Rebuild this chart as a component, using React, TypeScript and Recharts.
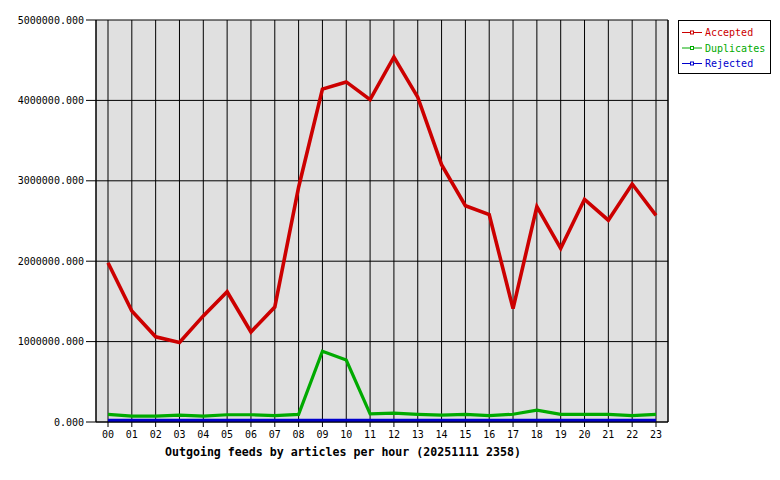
import React from "react";
import { LineChart, Line, XAxis, YAxis, CartesianGrid } from "recharts";

const hours = ["00","01","02","03","04","05","06","07","08","09","10","11","12","13","14","15","16","17","18","19","20","21","22","23"];
const accepted = [1980000,1380000,1060000,990000,1320000,1620000,1120000,1430000,2920000,4140000,4230000,4010000,4540000,4040000,3200000,2690000,2580000,1410000,2680000,2160000,2770000,2510000,2960000,2570000];
const duplicates = [95000,72000,72000,85000,72000,90000,90000,80000,95000,880000,770000,100000,110000,95000,85000,96000,80000,96000,148000,96000,96000,96000,80000,96000];
const rejected = [20000,20000,20000,20000,20000,20000,20000,20000,20000,20000,20000,20000,20000,20000,20000,20000,20000,20000,20000,20000,20000,20000,20000,20000];
const yTicks = [0,1000000,2000000,3000000,4000000,5000000];
const title = "Outgoing feeds by articles per hour (20251111 2358)";

const series = [
  { key: "accepted", name: "Accepted", color: "#cc0000", width: 3.6 },
  { key: "duplicates", name: "Duplicates", color: "#00aa00", width: 3.2 },
  { key: "rejected", name: "Rejected", color: "#0000cc", width: 3.2 },
];

const data = hours.map((h, i) => ({
  hour: h,
  accepted: accepted[i],
  duplicates: duplicates[i],
  rejected: rejected[i],
}));

const MONO = "'DejaVu Sans Mono', monospace";

const TitleLabel = (props: any) => {
  const vb = props.viewBox || {};
  return (
    <text x={(vb.x || 0) + 69} y={(vb.y || 0) + 34} fontFamily={MONO} fontSize={11.6} fontWeight="bold" fill="#000">
      {title}
    </text>
  );
};

export default function App() {
  return (
    <div style={{ position: "relative", width: 772, height: 472, background: "#fff" }}>
      <LineChart width={772} height={472} data={data} margin={{ top: 12, right: 111, bottom: 0, left: 0 }}>
        <CartesianGrid stroke="#000" strokeOpacity={1} fill="#e0e0e0" fillOpacity={1} />
        <XAxis
          dataKey="hour"
          height={58}
          interval={0}
          padding={{ left: 12, right: 12 }}
          tickSize={5}
          tickMargin={4}
          axisLine={{ stroke: "#000" }}
          tickLine={{ stroke: "#000" }}
          tick={{ fill: "#000", fontSize: 10, fontFamily: MONO }}
          label={<TitleLabel />}
        />
        <YAxis
          width={88}
          domain={[0, 5000000]}
          ticks={yTicks}
          interval={0}
          tickSize={10}
          tickMargin={2}
          tickFormatter={(v: number) => v.toFixed(3)}
          axisLine={{ stroke: "#000" }}
          tickLine={{ stroke: "#000" }}
          tick={{ fill: "#000", fontSize: 10, fontFamily: MONO }}
        />
        <YAxis
          yAxisId="right"
          orientation="right"
          width={1}
          domain={[0, 5000000]}
          tick={false}
          tickLine={false}
          axisLine={{ stroke: "#000" }}
        />
        {series.map((s) => (
          <Line
            key={s.key}
            dataKey={s.key}
            name={s.name}
            stroke={s.color}
            strokeWidth={s.width}
            dot={false}
            activeDot={false}
            type="linear"
            isAnimationActive={false}
          />
        ))}
      </LineChart>
      <svg width={94} height={55} style={{ position: "absolute", left: 670, top: 12 }}>
        <rect x={0.5} y={0.5} width={92} height={53} fill="#fff" stroke="#000" />
        {series.map((s, i) => {
          const y = 12.5 + i * 15.5;
          return (
            <g key={s.key}>
              <line x1={4} y1={y} x2={24} y2={y} stroke={s.color} strokeWidth={1} />
              <rect x={12.5} y={y - 1.5} width={3} height={3} fill="#fff" stroke={s.color} strokeWidth={1} />
              <text x={27} y={y + 3.5} fontFamily={MONO} fontSize={10} fill={s.color}>
                {s.name}
              </text>
            </g>
          );
        })}
      </svg>
    </div>
  );
}
